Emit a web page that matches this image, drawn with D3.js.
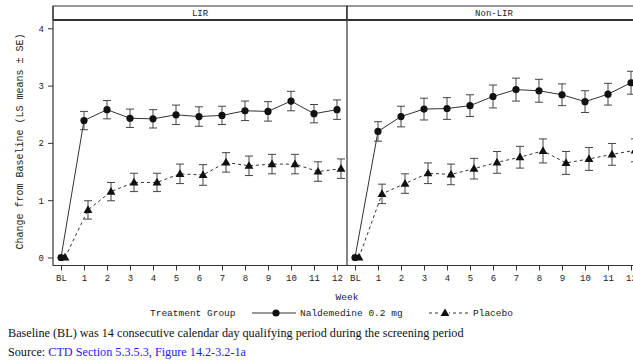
<!DOCTYPE html>
<html>
<head>
<meta charset="utf-8">
<script src="https://cdn.jsdelivr.net/npm/d3@7"></script>
<style>
  body { margin: 0; background: #fff; }
  svg { display: block; }
</style>
</head>
<body>
<div id="chart"></div>
<script>
// weeks on the x axis
var weeks = ["BL", "1", "2", "3", "4", "5", "6", "7", "8", "9", "10", "11", "12"];
var panels = ["LIR", "Non-LIR"];
var yTicks = [0, 1, 2, 3, 4];

// LS mean change from baseline, and SE
var lirNalde = [0, 2.39, 2.58, 2.43, 2.42, 2.49, 2.46, 2.48, 2.56, 2.55, 2.73, 2.51, 2.58];
var lirNaldeSE = [0, 0.16, 0.16, 0.16, 0.16, 0.17, 0.17, 0.16, 0.17, 0.17, 0.17, 0.16, 0.17];
var lirPlac = [0, 0.83, 1.15, 1.31, 1.31, 1.46, 1.44, 1.66, 1.60, 1.63, 1.63, 1.50, 1.55];
var lirPlacSE = [0, 0.16, 0.16, 0.16, 0.16, 0.17, 0.18, 0.17, 0.17, 0.17, 0.17, 0.17, 0.17];
var nonNalde = [0, 2.20, 2.46, 2.59, 2.60, 2.65, 2.81, 2.93, 2.91, 2.84, 2.72, 2.85, 3.05];
var nonNaldeSE = [0, 0.17, 0.18, 0.19, 0.19, 0.19, 0.2, 0.2, 0.2, 0.19, 0.19, 0.19, 0.2];
var nonPlac = [0, 1.11, 1.29, 1.47, 1.45, 1.55, 1.66, 1.75, 1.86, 1.65, 1.72, 1.80, 1.87];
var nonPlacSE = [0, 0.17, 0.17, 0.18, 0.18, 0.18, 0.19, 0.19, 0.21, 0.2, 0.2, 0.19, 0.2];

var W = 633, H = 363;
var mono = "'Liberation Mono', 'DejaVu Sans Mono', monospace";
var serif = "'Liberation Serif', 'DejaVu Serif', serif";
var ink = "#333";

var svg = d3.select("#chart").append("svg")
  .attr("width", W).attr("height", H);

var plotLeft = 53, panelW = 294, stripTop = 6, plotTop = 20, plotBottom = 265.5;

var x = d3.scalePoint().domain(weeks).range([8, 284]);
var y = d3.scaleLinear().domain([-0.14, 4.145]).range([plotBottom, plotTop]);

var series = {
  "LIR": [
    {name: "nalde", vals: lirNalde, se: lirNaldeSE, dx: 0},
    {name: "plac", vals: lirPlac, se: lirPlacSE, dx: 4}
  ],
  "Non-LIR": [
    {name: "nalde", vals: nonNalde, se: nonNaldeSE, dx: 0},
    {name: "plac", vals: nonPlac, se: nonPlacSE, dx: 4}
  ]
};

var triangle = d3.symbol().type(d3.symbolTriangle).size(34);

panels.forEach(function(p, i) {
  var x0 = plotLeft + i * panelW;
  var g = svg.append("g").attr("transform", "translate(" + x0 + ",0)");

  // strip header
  g.append("rect")
    .attr("x", 0).attr("y", stripTop)
    .attr("width", panelW).attr("height", plotTop - stripTop)
    .attr("fill", "#fff").attr("stroke", ink).attr("stroke-width", 1);
  g.append("line")
    .attr("x1", 0).attr("x2", panelW)
    .attr("y1", plotTop).attr("y2", plotTop)
    .attr("stroke", ink).attr("stroke-width", 2);
  g.append("text")
    .attr("x", panelW / 2).attr("y", 14)
    .attr("text-anchor", "middle")
    .attr("dominant-baseline", "middle")
    .attr("font-family", mono).attr("font-size", "9px")
    .attr("fill", "#222")
    .text(p);

  // panel frame (left side)
  g.append("line")
    .attr("x1", 0).attr("x2", 0)
    .attr("y1", stripTop).attr("y2", plotBottom)
    .attr("stroke", ink).attr("stroke-width", 1.2);

  // x axis
  var xAxis = g.append("g")
    .attr("transform", "translate(0," + plotBottom + ")")
    .call(d3.axisBottom(x).tickSize(5).tickPadding(4));
  xAxis.select(".domain").attr("stroke", ink).attr("stroke-width", 1.2)
    .attr("d", "M0,0H" + panelW);
  xAxis.selectAll(".tick line").attr("stroke", ink);
  xAxis.selectAll("text")
    .attr("font-family", mono).attr("font-size", "9px").attr("fill", "#222");

  var data = series[p];
  data.forEach(function(s) {
    var pts = s.vals.map(function(v, k) {
      return {w: weeks[k], v: v, se: s.se[k]};
    });
    var cx = function(d) { return x(d.w) + s.dx; };

    var line = d3.line().x(cx).y(function(d) { return y(d.v); });
    g.append("path")
      .datum(pts)
      .attr("d", line)
      .attr("fill", "none")
      .attr("stroke", ink)
      .attr("stroke-width", 1)
      .attr("stroke-dasharray", s.name === "plac" ? "3,3" : null);

    // error bars
    var eb = g.append("g").selectAll("g").data(pts.filter(function(d) { return d.se > 0; }))
      .enter().append("g");
    eb.append("line")
      .attr("x1", cx).attr("x2", cx)
      .attr("y1", function(d) { return y(d.v - d.se); })
      .attr("y2", function(d) { return y(d.v + d.se); })
      .attr("stroke", "#444").attr("stroke-width", 1);
    [-1, 1].forEach(function(sign) {
      eb.append("line")
        .attr("x1", function(d) { return cx(d) - 4; })
        .attr("x2", function(d) { return cx(d) + 4; })
        .attr("y1", function(d) { return y(d.v + sign * d.se); })
        .attr("y2", function(d) { return y(d.v + sign * d.se); })
        .attr("stroke", "#444").attr("stroke-width", 1);
    });

    // markers
    if (s.name === "nalde") {
      g.append("g").selectAll("circle").data(pts).enter().append("circle")
        .attr("cx", cx).attr("cy", function(d) { return y(d.v); })
        .attr("r", 3.6).attr("fill", "#111");
    } else {
      g.append("g").selectAll("path").data(pts).enter().append("path")
        .attr("d", triangle)
        .attr("transform", function(d) { return "translate(" + cx(d) + "," + (y(d.v) + 0.5) + ")"; })
        .attr("fill", "#111");
    }
  });
});

// divider on right of last panel (off the page, as in the original)
svg.append("line")
  .attr("x1", plotLeft + 2 * panelW).attr("x2", plotLeft + 2 * panelW)
  .attr("y1", stripTop).attr("y2", plotBottom)
  .attr("stroke", ink);

// y axis
var yAxis = svg.append("g")
  .attr("transform", "translate(" + plotLeft + ",0)")
  .call(d3.axisLeft(y).tickValues(yTicks).tickSize(5).tickPadding(4).tickFormat(d3.format("d")));
yAxis.select(".domain").remove();
yAxis.selectAll(".tick line").attr("stroke", ink);
yAxis.selectAll("text")
  .attr("font-family", mono).attr("font-size", "9px").attr("fill", "#222");

svg.append("text")
  .attr("transform", "translate(23,141.5) rotate(-90)")
  .attr("text-anchor", "middle")
  .attr("font-family", mono).attr("font-size", "10px").attr("fill", "#222")
  .text("Change from Baseline (LS means \u00b1 SE)");

svg.append("text")
  .attr("x", 347).attr("y", 300)
  .attr("text-anchor", "middle")
  .attr("font-family", mono).attr("font-size", "9.5px").attr("fill", "#222")
  .text("Week");

// legend
var lg = svg.append("g").attr("font-family", mono).attr("font-size", "9.5px").attr("fill", "#222");
lg.append("text").attr("x", 150).attr("y", 316).text("Treatment Group");
lg.append("line").attr("x1", 252).attr("x2", 296).attr("y1", 313).attr("y2", 313)
  .attr("stroke", ink).attr("stroke-width", 1);
lg.append("circle").attr("cx", 276).attr("cy", 313).attr("r", 3.6).attr("fill", "#111");
lg.append("text").attr("x", 300).attr("y", 316).text("Naldemedine 0.2 mg");
lg.append("line").attr("x1", 429).attr("x2", 469).attr("y1", 313).attr("y2", 313)
  .attr("stroke", ink).attr("stroke-width", 1).attr("stroke-dasharray", "3,3");
lg.append("rect").attr("x", 441).attr("y", 308).attr("width", 8).attr("height", 8).attr("fill", "#fff");
lg.append("path").attr("d", triangle).attr("transform", "translate(445,313.5)").attr("fill", "#111");
lg.append("text").attr("x", 473).attr("y", 316).text("Placebo");

// footnotes
svg.append("text")
  .attr("x", 8).attr("y", 337)
  .attr("font-family", serif).attr("font-size", "12.2px").attr("fill", "#111")
  .text("Baseline (BL) was 14 consecutive calendar day qualifying period during the screening period");
var src = svg.append("text")
  .attr("x", 8).attr("y", 356)
  .attr("font-family", serif).attr("font-size", "12.2px");
src.append("tspan").attr("fill", "#111").text("Source: ");
src.append("tspan").attr("fill", "#1a1aff").text("CTD Section 5.3.5.3, Figure 14.2-3.2-1a");
</script>
</body>
</html>
